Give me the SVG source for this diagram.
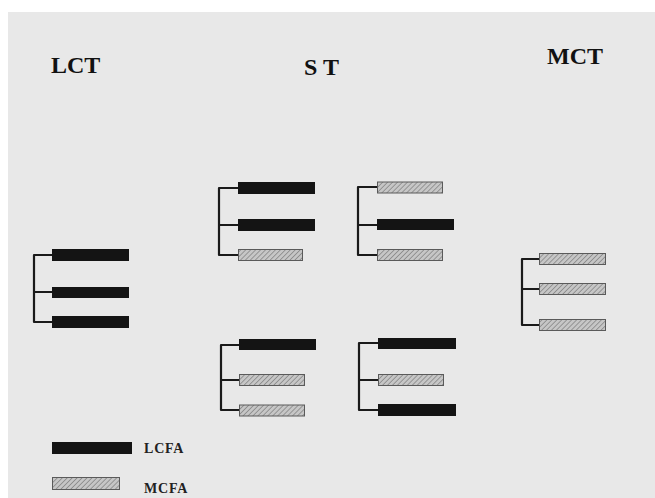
<svg xmlns="http://www.w3.org/2000/svg" width="655" height="498" viewBox="0 0 655 498">
<defs>
<pattern id="hatch" patternUnits="userSpaceOnUse" width="3.5" height="3.5" patternTransform="rotate(45)">
<rect width="3.5" height="3.5" fill="#c6c6c6"/>
<line x1="0" y1="0" x2="0" y2="3.5" stroke="#7e7e7e" stroke-width="1.4"/>
</pattern>
</defs>
<style>
.t{font-family:"Liberation Serif","Times New Roman",serif;font-weight:bold;fill:#111}
.lg{font-family:"Liberation Serif","Times New Roman",serif;font-weight:bold;fill:#222;font-size:14px;letter-spacing:0.8px}
.b{fill:#141414}
.h{fill:url(#hatch);stroke:#5a5a5a;stroke-width:1}
.c{fill:none;stroke:#1a1a1a;stroke-width:2.2;stroke-linejoin:round}
</style>
<rect width="655" height="498" fill="#ffffff"/>
<rect x="8" y="12" width="647" height="486" fill="#e8e8e8"/>
<g id="titles">
<text class="t" x="51" y="73" font-size="24">LCT</text>
<text class="t" x="304" y="75" font-size="24">S T</text>
<text class="t" x="547" y="64" font-size="24">MCT</text>
</g>
<g id="connectors">
<path class="c" d="M52,255 H34 V322 H52 M34,292 H52"/>
<path class="c" d="M238,188 H219 V255 H238 M219,225 H238"/>
<path class="c" d="M377,187 H358 V255 H377 M358,225 H377"/>
<path class="c" d="M239,345 H221 V410 H239 M221,380 H239"/>
<path class="c" d="M378,343 H359 V410 H378 M359,380 H378"/>
<path class="c" d="M539,259 H522 V325 H539 M522,289 H539"/>
</g>
<g id="lct">
<rect class="b" x="52" y="249" width="77" height="12"/>
<rect class="b" x="52" y="287" width="77" height="11"/>
<rect class="b" x="52" y="316" width="77" height="12"/>
</g>
<g id="st1">
<rect class="b" x="238" y="182" width="77" height="12"/>
<rect class="b" x="238" y="219" width="77" height="12"/>
<rect class="h" x="238.5" y="249.5" width="64" height="11"/>
</g>
<g id="st2">
<rect class="h" x="377.5" y="182" width="65" height="11"/>
<rect class="b" x="377" y="219" width="77" height="11"/>
<rect class="h" x="377.5" y="249.5" width="65" height="11"/>
</g>
<g id="st3">
<rect class="b" x="239" y="339" width="77" height="11"/>
<rect class="h" x="239.5" y="374.5" width="65" height="11"/>
<rect class="h" x="239.5" y="405" width="65" height="11"/>
</g>
<g id="st4">
<rect class="b" x="378" y="338" width="78" height="11"/>
<rect class="h" x="378.5" y="374.5" width="65" height="11"/>
<rect class="b" x="378" y="404" width="78" height="12"/>
</g>
<g id="mct">
<rect class="h" x="539.5" y="253.5" width="66" height="11"/>
<rect class="h" x="539.5" y="283.5" width="66" height="11"/>
<rect class="h" x="539.5" y="319.5" width="66" height="11"/>
</g>
<g id="legend">
<rect class="b" x="52" y="442" width="80" height="12"/>
<text class="lg" x="144" y="453">LCFA</text>
<rect class="h" x="52.5" y="477.5" width="67" height="12"/>
<text class="lg" x="144" y="493">MCFA</text>
</g>
</svg>
